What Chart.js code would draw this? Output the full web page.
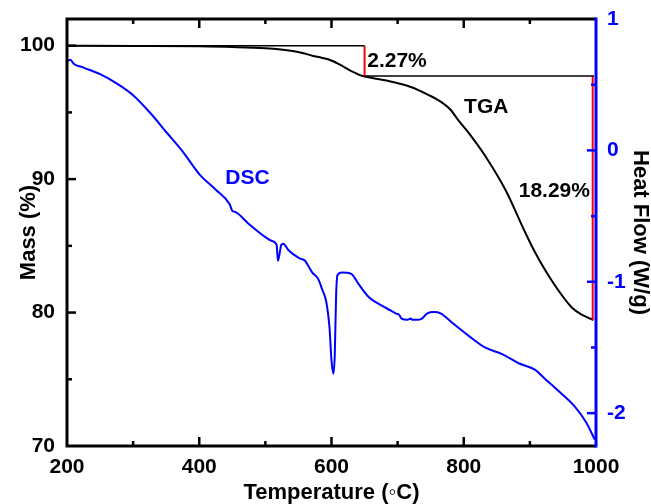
<!DOCTYPE html>
<html>
<head>
<meta charset="utf-8">
<script src="https://cdn.jsdelivr.net/npm/chart.js@4/dist/chart.umd.min.js"></script>
<style>
  body { margin: 0; background: #fff; }
  #wrap { width: 651px; height: 504px; }
</style>
</head>
<body>
<div id="wrap"><canvas id="myChart"></canvas></div>
<script>
// TGA (mass %, left axis)
const tgaT    = [200, 300, 400, 450, 500, 541, 556, 571, 585, 597, 612, 630, 646, 660, 691, 720, 747, 762, 780, 792, 810, 833, 863, 893, 908, 933, 963, 980, 996];
const tgaMass = [100, 99.98, 99.95, 99.9, 99.8, 99.6, 99.45, 99.25, 99.1, 98.95, 98.6, 98.1, 97.75, 97.6, 97.3, 96.9, 96.3, 95.9, 95.2, 94.4, 93.3, 91.7, 89.2, 86.0, 84.5, 82.4, 80.4, 79.8, 79.44];

// DSC (heat flow W/g, right axis)
const dscT    = [201, 205, 210, 225, 250, 275, 300, 325, 350, 375, 400, 425, 446, 450, 455, 475, 500, 510, 517, 519, 521, 524, 527, 535, 551, 560, 565, 571, 580, 586, 592, 597, 600, 603, 605, 607, 609, 616, 630, 635, 640, 657, 672, 690, 697, 702, 706, 715, 720, 722, 728, 737, 745, 755, 765, 782, 807, 832, 858, 883, 908, 923, 943, 968, 985, 998];
const dscHeat = [0.68, 0.69, 0.66, 0.63, 0.58, 0.51, 0.42, 0.29, 0.14, -0.01, -0.18, -0.30, -0.41, -0.46, -0.47, -0.56, -0.66, -0.69, -0.72, -0.84, -0.80, -0.72, -0.71, -0.76, -0.82, -0.84, -0.88, -0.93, -0.98, -1.06, -1.15, -1.35, -1.60, -1.70, -1.55, -1.10, -0.95, -0.93, -0.94, -0.97, -1.01, -1.12, -1.17, -1.22, -1.24, -1.25, -1.28, -1.29, -1.28, -1.29, -1.29, -1.28, -1.24, -1.23, -1.24, -1.31, -1.41, -1.50, -1.55, -1.62, -1.67, -1.74, -1.83, -1.95, -2.07, -2.20];

// mass-loss step guides
const step1T = [200, 650], step1Mass = [100, 100];
const drop1T = [650, 650], drop1Mass = [100, 97.73];
const step2T = [650, 997], step2Mass = [97.73, 97.73];
const drop2T = [995, 995], drop2Mass = [97.73, 79.44];

// tick labels
const xTicks = [200, 400, 600, 800, 1000];
const massTicks = [70, 80, 90, 100];
const heatTicks = [-2, -1, 0, 1];

const FONT = '"Liberation Sans", Arial, sans-serif';
const BLUE = '#0000ff';

function pts(xs, ys) { return xs.map((x, i) => ({x: x, y: ys[i]})); }
function line(data, color, width, axis, smooth) {
  return {data: data, borderColor: color, borderWidth: width, yAxisID: axis,
    showLine: true, pointRadius: 0, fill: false,
    cubicInterpolationMode: smooth ? 'monotone' : 'default', tension: smooth ? 0.4 : 0};
}

const texts = [
  {t: '2.27%',  x: 654, y: 98.87, align: 'left',   color: '#000'},
  {t: 'TGA',    x: 834, y: 95.4,  align: 'center', color: '#000'},
  {t: '18.29%', x: 937, y: 89.1,  align: 'center', color: '#000'},
  {t: 'DSC',    x: 473, y: 90.1,  align: 'center', color: BLUE}
];

const frame = {
  id: 'frame',
  afterDatasetsDraw(chart) {
    const c = chart.ctx, a = chart.chartArea;
    const sx = chart.scales.x, sy = chart.scales.y, s1 = chart.scales.y1;
    c.save();
    c.lineCap = 'butt';
    // ticks, pointing inward
    c.strokeStyle = '#000'; c.lineWidth = 2.5;
    for (let v = 300; v < 1000; v += 100) {
      const px = sx.getPixelForValue(v), L = v % 200 === 0 ? 9 : 5;
      c.beginPath(); c.moveTo(px, a.bottom); c.lineTo(px, a.bottom - L);
      c.moveTo(px, a.top); c.lineTo(px, a.top + L); c.stroke();
    }
    for (let v = 75; v <= 100; v += 5) {
      const py = sy.getPixelForValue(v), L = v % 10 === 0 ? 9 : 5;
      c.beginPath(); c.moveTo(a.left, py); c.lineTo(a.left + L, py); c.stroke();
    }
    c.strokeStyle = BLUE;
    for (let v = -2; v <= 0.5; v += 0.5) {
      const py = s1.getPixelForValue(v), L = Number.isInteger(v) ? 9 : 5;
      c.beginPath(); c.moveTo(a.right, py); c.lineTo(a.right - L, py); c.stroke();
    }
    // frame
    c.lineWidth = 3; c.strokeStyle = '#000';
    c.beginPath();
    c.moveTo(a.right, a.top); c.lineTo(a.left, a.top); c.lineTo(a.left, a.bottom); c.lineTo(a.right, a.bottom);
    c.stroke();
    c.strokeStyle = BLUE;
    c.beginPath(); c.moveTo(a.right, a.top - 1.5); c.lineTo(a.right, a.bottom + 1.5); c.stroke();
    // labels
    c.font = 'bold 21px ' + FONT;
    c.textBaseline = 'middle';
    texts.forEach(o => {
      c.fillStyle = o.color; c.textAlign = o.align;
      c.fillText(o.t, sx.getPixelForValue(o.x), sy.getPixelForValue(o.y));
    });
    c.restore();
  }
};

const keep = list => scale => { scale.ticks = list.map(v => ({value: v})); };
const plain = v => String(v);
const fitTo = (key, size) => s => {
  s[key] = size;
  s.paddingTop = 0; s.paddingBottom = 0; s.paddingLeft = 0; s.paddingRight = 0;
};
const tickFont = {family: FONT, size: 21, weight: 'bold'};
const titleFont = {family: FONT, size: 22, weight: 'bold', lineHeight: 1};

new Chart(document.getElementById('myChart').getContext('2d'), {
  type: 'scatter',
  data: {
    datasets: [
      line(pts(step1T, step1Mass), '#000', 1.5, 'y', false),
      line(pts(step2T, step2Mass), '#000', 1.5, 'y', false),
      line(pts(drop1T, drop1Mass), '#ff0000', 2, 'y', false),
      line(pts(drop2T, drop2Mass), '#ff0000', 2, 'y', false),
      line(pts(tgaT, tgaMass), '#000', 2, 'y', true),
      line(pts(dscT, dscHeat), BLUE, 2, 'y1', true)
    ]
  },
  options: {
    responsive: true,
    maintainAspectRatio: false,
    animation: false,
    layout: {padding: {top: 19, left: 0, right: 0, bottom: 0}},
    plugins: {legend: {display: false}, tooltip: {enabled: false}},
    scales: {
      x: {
        type: 'linear', min: 200, max: 1000,
        afterBuildTicks: keep(xTicks),
        afterFit: fitTo('height', 58),
        grid: {display: false, drawTicks: false},
        border: {display: false},
        ticks: {color: '#000', padding: 9, font: tickFont, callback: plain},
        title: {display: true, text: 'Temperature (\u25E6C)', color: '#000', padding: {top: 0, bottom: 0}, font: titleFont}
      },
      y: {
        type: 'linear', position: 'left', min: 70, max: 102,
        afterBuildTicks: keep(massTicks),
        afterFit: fitTo('width', 67),
        grid: {display: false, drawTicks: false},
        border: {display: false},
        ticks: {color: '#000', padding: 12, font: tickFont, callback: plain},
        title: {display: true, text: 'Mass (%)', color: '#000', padding: {top: 18, bottom: 0}, font: titleFont}
      },
      y1: {
        type: 'linear', position: 'right', min: -2.25, max: 1,
        afterBuildTicks: keep(heatTicks),
        afterFit: fitTo('width', 55),
        grid: {display: false, drawTicks: false},
        border: {display: false},
        ticks: {color: BLUE, padding: 11, font: tickFont, callback: plain},
        title: {display: true, text: 'Heat Flow (W/g)', color: '#000', padding: {top: 0, bottom: 0}, font: titleFont}
      }
    }
  },
  plugins: [frame]
});
</script>
</body>
</html>
